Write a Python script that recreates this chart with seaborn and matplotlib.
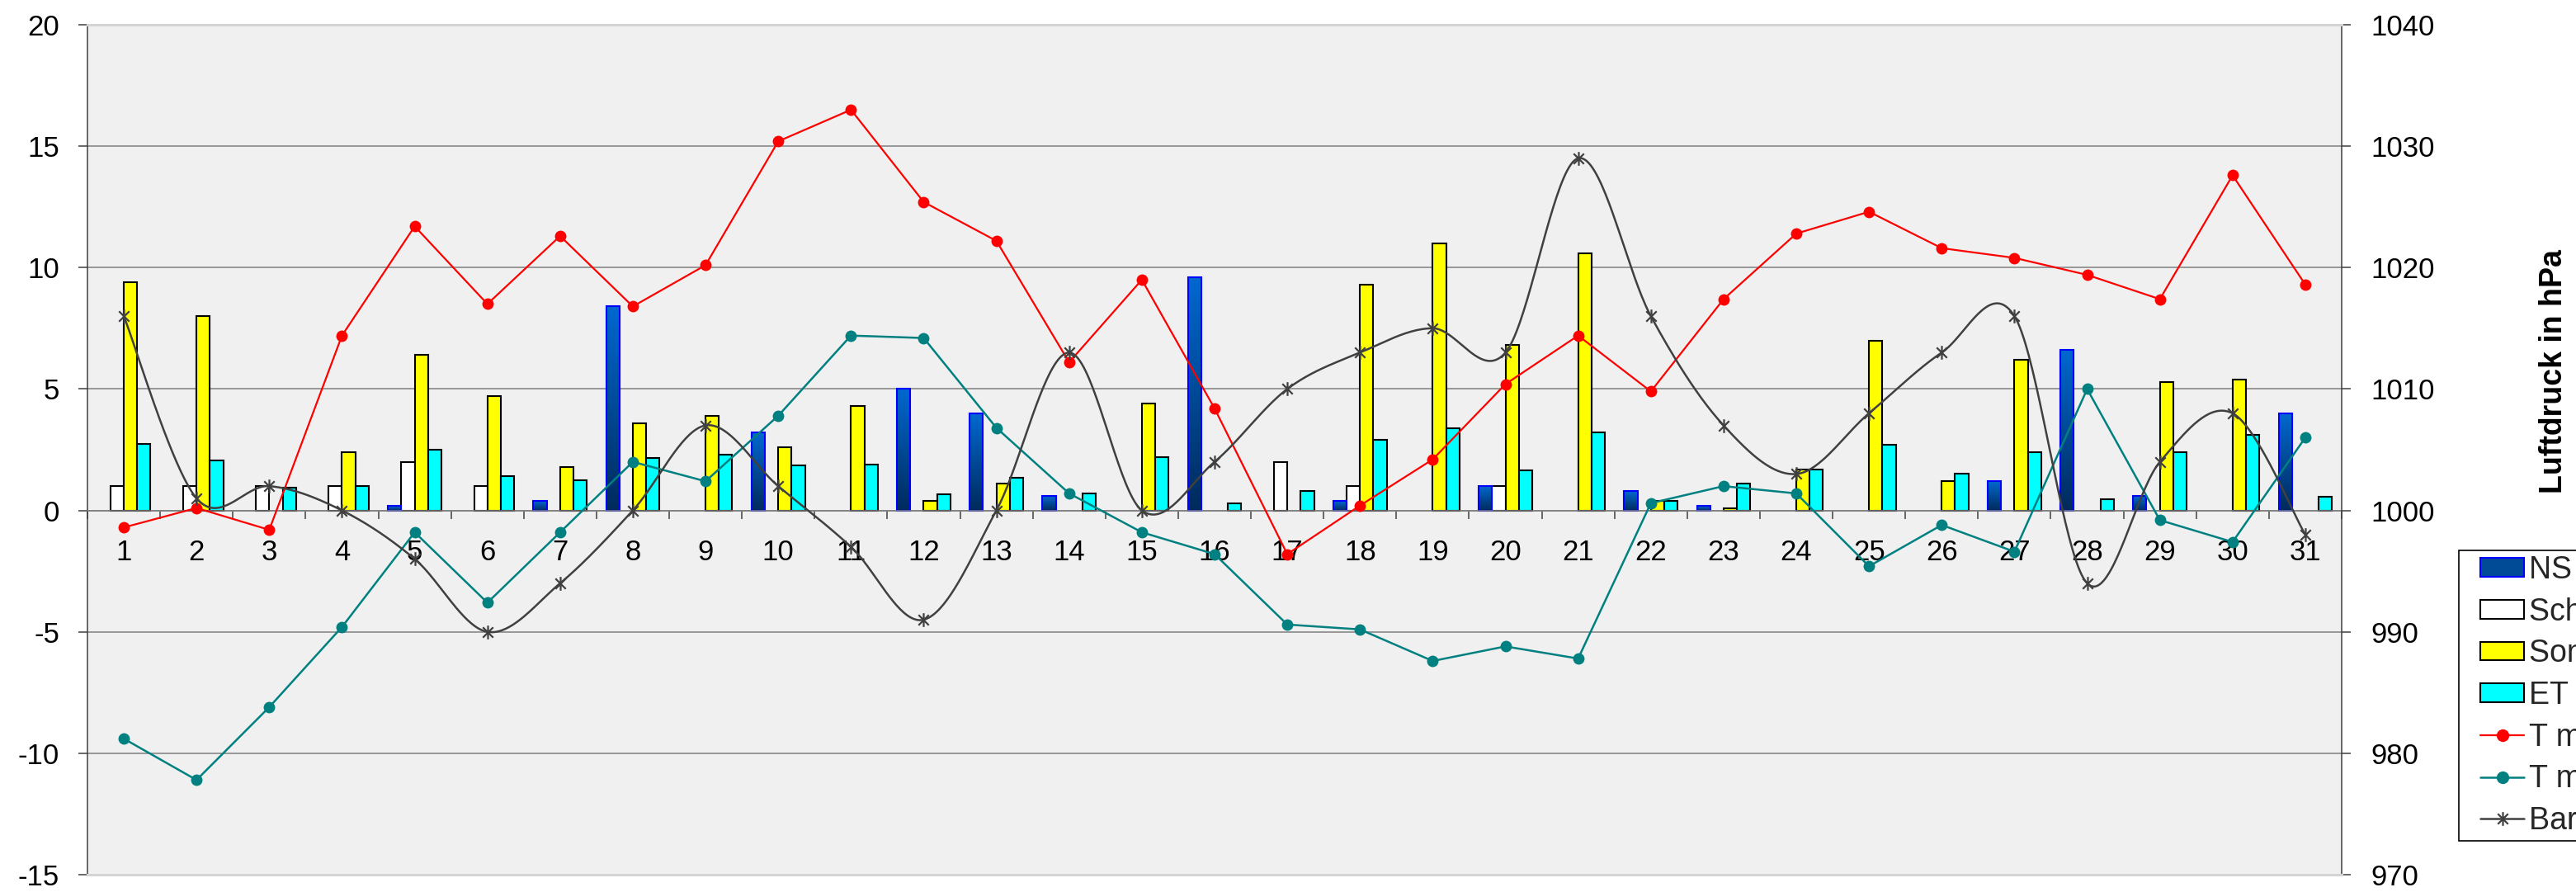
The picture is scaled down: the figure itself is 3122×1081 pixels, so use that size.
import numpy as np
import pandas as pd
import matplotlib
matplotlib.use("Agg")
import matplotlib.pyplot as plt
import seaborn as sns
from matplotlib.path import Path
from matplotlib.patches import Patch
from matplotlib.lines import Line2D
from matplotlib.legend_handler import HandlerPatch, HandlerLine2D
from matplotlib.colors import LinearSegmentedColormap

# ---------------- data ----------------
days = [str(d) for d in range(1, 32)]
ns = [0, 0, 0, 0, 0.2, 0, 0.4, 8.4, 0, 3.2, 0, 5.0, 4.0, 0.6, 0, 9.6,
      0, 0.4, 0, 1.0, 0, 0.8, 0.2, 0, 0, 0, 1.2, 6.6, 0.6, 0, 4.0]
schnee = [1, 1, 1, 1, 2, 1, 0, 0, 0, 0, 0, 0, 0, 0, 0, 0,
          2, 1, 0, 1, 0, 0, 0, 0, 0, 0, 0, 0, 0, 0, 0]
sonne = [9.4, 8.0, 0, 2.4, 6.4, 4.7, 1.8, 3.6, 3.9, 2.6, 4.3, 0.4, 1.1, 0, 4.4, 0,
         0, 9.3, 11.0, 6.8, 10.6, 0.4, 0.1, 1.7, 7.0, 1.2, 6.2, 0, 5.3, 5.4, 0]
et = [2.75, 2.05, 0.95, 1.0, 2.5, 1.4, 1.25, 2.15, 2.3, 1.85, 1.9, 0.65, 1.35, 0.7, 2.2, 0.3,
      0.8, 2.9, 3.4, 1.65, 3.2, 0.4, 1.1, 1.7, 2.7, 1.5, 2.4, 0.45, 2.4, 3.1, 0.55]
tmax = [-0.7, 0.1, -0.8, 7.2, 11.7, 8.5, 11.3, 8.4, 10.1, 15.2, 16.5, 12.7, 11.1, 6.1, 9.5, 4.2,
        -1.8, 0.2, 2.1, 5.2, 7.2, 4.9, 8.7, 11.4, 12.3, 10.8, 10.4, 9.7, 8.7, 13.8, 9.3]
tmin = [-9.4, -11.1, -8.1, -4.8, -0.9, -3.8, -0.9, 2.0, 1.2, 3.9, 7.2, 7.1, 3.4, 0.7, -0.9, -1.8,
        -4.7, -4.9, -6.2, -5.6, -6.1, 0.3, 1.0, 0.7, -2.3, -0.6, -1.7, 5.0, -0.4, -1.3, 3.0]
baro = [1016, 1001, 1002, 1000, 996, 990, 994, 1000, 1007, 1002, 997, 991, 1000, 1013, 1000, 1004,
        1010, 1013, 1015, 1013, 1029, 1016, 1007, 1003, 1008, 1013, 1016, 994, 1004, 1008, 998]

bar_series = ["NS in mm", "Schnee in cm", "Sonne in h", "ET in mm"]
line_labels = ["T max in °C", "T min in °C", "Barometer in hPa"]
left_ticks = list(range(-15, 21, 5))
right_ticks = list(range(970, 1041, 10))

# ---------------- style ----------------
sns.set_theme(style="white")
plt.rcParams["font.family"] = ["Liberation Sans", "DejaVu Sans"]

W, H = 3122, 1081
fig = plt.figure(figsize=(W / 100, H / 100), dpi=100)
fig.patch.set_facecolor("white")
L, R, T, B = 106, 2838, 30, 1060
ax = fig.add_axes([L / W, 1 - B / H, (R - L) / W, (B - T) / H])
ax.set_facecolor("#F0F0F0")

long_df = pd.DataFrame({
    "Tag": days * 4,
    "Reihe": sum([[s] * len(days) for s in bar_series], []),
    "Wert": ns + schnee + sonne + et,
})
palette = dict(zip(bar_series, ["#0066CC", "#FFFFFF", "#FFFF00", "#00FFFF"]))
sns.barplot(data=long_df, x="Tag", y="Wert", hue="Reihe", order=days,
            hue_order=bar_series, palette=palette, width=0.735, gap=0,
            edgecolor="black", linewidth=1.5, errorbar=None, legend=False,
            saturation=1, ax=ax, zorder=2)

# NS bars: gradient fill with blue border
grad = np.linspace(0, 1, 256).reshape(-1, 1)
ns_cmap = LinearSegmentedColormap.from_list("ns", ["#0068D0", "#002A5C"])
for ci, cont in enumerate(ax.containers):
    for p in cont:
        h = p.get_height()
        if not np.isfinite(h) or h <= 0:
            p.set_visible(False)
            continue
        if ci == 0:
            x0, w = p.get_x(), p.get_width()
            im = ax.imshow(grad, extent=[x0, x0 + w, 0, h], aspect="auto",
                           cmap=ns_cmap, zorder=2, interpolation="bilinear")
            im.set_clip_path(p)
            p.set_facecolor("none")
            p.set_edgecolor("#0000FF")
            p.set_zorder(2.1)

xpos = np.arange(len(days))
sns.lineplot(x=xpos, y=tmax, color="#FF0000", marker="o", markersize=10,
             markeredgewidth=0, linewidth=1.6, ax=ax, zorder=4)
sns.lineplot(x=xpos, y=tmin, color="#008080", marker="o", markersize=10,
             markeredgewidth=0, linewidth=1.8, ax=ax, zorder=4)

ax.set_xlim(-0.5, len(days) - 0.5)
ax.set_ylim(-15, 20)
ax.set_xlabel("")
ax.set_ylabel("")

# category axis at 0
ax.spines["bottom"].set_position(("data", 0))
ax.spines["bottom"].set_color("#7F7F7F")
ax.spines["bottom"].set_linewidth(1.1)
ax.spines["top"].set_visible(False)
ax.spines["right"].set_visible(False)
ax.spines["left"].set_color("#404040")
ax.spines["left"].set_linewidth(1.1)
bounds = np.arange(-0.5, len(days), 1.0)
ax.set_xticks(bounds, labels=[""] * len(bounds))
ax.set_xticks(xpos, labels=days, minor=True)
ax.tick_params(axis="x", which="major", direction="out", length=7.2, width=1.1,
               color="#404040", labelbottom=False, bottom=True)
ax.tick_params(axis="x", which="minor", length=0, pad=24.5, labelsize=25,
               labelcolor="black")
ax.set_yticks(left_ticks, labels=[str(v) for v in left_ticks])
ax.tick_params(axis="y", which="major", direction="out", length=7.9, width=1.1,
               color="#404040", pad=16.6, labelsize=25, left=True, labelcolor="black")
ax.grid(axis="y", color="#7F7F7F", linewidth=1.1)
ax.grid(axis="x", visible=False)
ax.set_axisbelow(True)

# pressure axis
ax2 = ax.twinx()
ax2.set_ylim(970, 1040)
star = Path([(0, -1), (0, 1), (-0.75, -0.75), (0.75, 0.75), (-0.75, 0.75), (0.75, -0.75)],
            [Path.MOVETO, Path.LINETO] * 3)


def smooth(xv, yv, n=40):
    P = np.column_stack([xv, yv]).astype(float)
    N = len(P)
    out = []
    for i in range(N - 1):
        p0 = P[i - 1] if i > 0 else P[i]
        p1, p2 = P[i], P[i + 1]
        p3 = P[i + 2] if i + 2 < N else P[i + 1]
        c1 = p1 + (p2 - p0) / 6.0
        c2 = p2 - (p3 - p1) / 6.0
        t = np.linspace(0, 1, n, endpoint=(i == N - 2))[:, None]
        out.append((1 - t) ** 3 * p1 + 3 * (1 - t) ** 2 * t * c1
                   + 3 * (1 - t) * t ** 2 * c2 + t ** 3 * p2)
    return np.vstack(out)


curve = smooth(xpos, baro)
ax2.plot(curve[:, 0], curve[:, 1], color="#404040", linewidth=1.8, zorder=3)
ax2.plot(xpos, baro, linestyle="none", marker=star, markersize=12,
         markeredgewidth=1.6, markerfacecolor="none", color="#404040", zorder=3)
ax2.set_yticks(right_ticks, labels=[str(v) for v in right_ticks])
ax2.tick_params(axis="y", which="major", direction="out", length=7.9, width=1.1,
                color="#404040", pad=17.3, labelsize=25, right=True, labelcolor="black")
ax2.grid(False)
ax2.set_ylabel("")
ax2.spines["left"].set_visible(False)
ax2.spines["right"].set_color("#404040")
ax2.spines["right"].set_linewidth(1.1)
for s in ("top", "bottom"):
    ax2.spines[s].set_color("#D4D4D4")
    ax2.spines[s].set_linewidth(2.2)
ax2.set_xlim(-0.5, len(days) - 0.5)

fig.text(3095 / W, 1 - 450 / H, "Luftdruck in hPa", rotation=90, ha="center",
         va="center", fontsize=27, fontweight="bold", color="black")

# legend (partly cut at the right edge, as in the original)
handles = [
    Patch(facecolor="#004A96", edgecolor="#0000FF", linewidth=1.5),
    Patch(facecolor="#FFFFFF", edgecolor="black", linewidth=1.5),
    Patch(facecolor="#FFFF00", edgecolor="black", linewidth=1.5),
    Patch(facecolor="#00FFFF", edgecolor="black", linewidth=1.5),
    Line2D([], [], color="#FF0000", marker="o", markersize=11, markeredgewidth=0, linewidth=1.6),
    Line2D([], [], color="#008080", marker="o", markersize=11, markeredgewidth=0, linewidth=1.8),
    Line2D([], [], color="#404040", marker=star, markersize=12, markeredgewidth=1.6,
           markerfacecolor="none", linewidth=1.8),
]
xp = 0.53
leg = fig.legend(handles, bar_series + line_labels, loc="upper left",
                 bbox_to_anchor=(2980 / W, 1 - 667 / H), bbox_transform=fig.transFigure,
                 fontsize=27, borderaxespad=0, borderpad=0.16, labelspacing=0.39,
                 handlelength=1.95, handleheight=0.55, handletextpad=0.16,
                 frameon=True, fancybox=False, framealpha=1, edgecolor="black",
                 handler_map={Patch: HandlerPatch(xpad=xp), Line2D: HandlerLine2D(xpad=xp)})
leg.get_frame().set_linewidth(1.2)
leg.get_frame().set_facecolor("white")

fig.savefig("out.png", dpi=100)
